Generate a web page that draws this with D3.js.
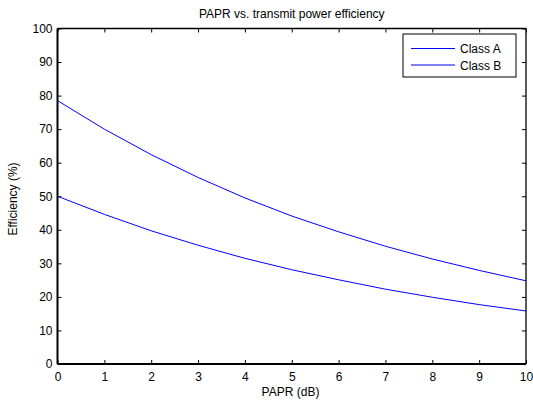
<!DOCTYPE html>
<html><head><meta charset="utf-8">
<script src="https://cdn.jsdelivr.net/npm/d3@7"></script>
<style>body{margin:0;background:#fff}svg{display:block}text{font-family:"Liberation Sans",Arial,sans-serif}</style>
</head><body><svg id="c" width="533" height="401"></svg>
<script>
const papr = [0,1,2,3,4,5,6,7,8,9,10];
const classA = [50,44.6,39.7,35.4,31.5,28.1,25.1,22.3,19.9,17.7,15.8];
const classB = [78.5,70.0,62.4,55.6,49.5,44.1,39.4,35.1,31.3,27.9,24.8];
const xTicks = [0,1,2,3,4,5,6,7,8,9,10];
const yTicks = [0,10,20,30,40,50,60,70,80,90,100];
const seriesNames = ["Class A","Class B"];

const svg = d3.select("#c");
const L=57.5,R=526,T=28.5,B=364;
const x = d3.scaleLinear().domain([0,10]).range([L,R]);
const y = d3.scaleLinear().domain([0,100]).range([B,T]);
const FS = 12;

svg.append("rect").attr("width",533).attr("height",401).attr("fill","#fff");

// bottom axis
const xa = svg.append("g").attr("transform",`translate(0,${B})`)
  .call(d3.axisBottom(x).tickValues(xTicks).tickSizeInner(-4).tickSizeOuter(0).tickPadding(0).tickFormat(d3.format("d")));
xa.select(".domain").remove();
xa.selectAll("text").attr("font-size",FS).attr("fill","#000").attr("dy",null).attr("y",17);
xa.selectAll("line").attr("stroke","#000");
// top ticks
const xt = svg.append("g").attr("transform",`translate(0,${T})`)
  .call(d3.axisTop(x).tickValues(xTicks).tickSizeInner(-4).tickSizeOuter(0).tickFormat(""));
xt.select(".domain").remove(); xt.selectAll("line").attr("stroke","#000");
// left axis
const ya = svg.append("g").attr("transform",`translate(${L},0)`)
  .call(d3.axisLeft(y).tickValues(yTicks).tickSizeInner(-4).tickSizeOuter(0).tickPadding(5));
ya.select(".domain").remove();
ya.selectAll("text").attr("font-size",FS).attr("fill","#000");
ya.selectAll("line").attr("stroke","#000");
const yr = svg.append("g").attr("transform",`translate(${R},0)`)
  .call(d3.axisRight(y).tickValues(yTicks).tickSizeInner(-4).tickSizeOuter(0).tickFormat(""));
yr.select(".domain").remove(); yr.selectAll("line").attr("stroke","#000");

// lines
const line = d3.line().x((d,i)=>x(papr[i])).y(d=>y(d));
[classA,classB].forEach(s=>{
  svg.append("path").attr("d",line(s)).attr("fill","none").attr("stroke","#0000ff").attr("stroke-width",1);
});

// frame
svg.append("line").attr("x1",L).attr("x2",R).attr("y1",T).attr("y2",T).attr("stroke","#000").attr("stroke-width",1.3);
svg.append("line").attr("x1",R).attr("x2",R).attr("y1",T).attr("y2",B).attr("stroke","#000").attr("stroke-width",1.3);
svg.append("line").attr("x1",L).attr("x2",R).attr("y1",B).attr("y2",B).attr("stroke","#000").attr("stroke-width",2);
svg.append("line").attr("x1",L).attr("x2",L).attr("y1",T).attr("y2",B).attr("stroke","#000").attr("stroke-width",2);

// title and labels
svg.append("text").attr("x",(L+R)/2).attr("y",18).attr("text-anchor","middle").attr("font-size",FS).text("PAPR vs. transmit power efficiency");
svg.append("text").attr("x",290.5).attr("y",396).attr("text-anchor","middle").attr("font-size",FS).text("PAPR (dB)");
svg.append("text").attr("transform",`translate(17,199) rotate(-90)`).attr("text-anchor","middle").attr("font-size",FS).text("Efficiency (%)");

// legend
const lg = svg.append("g");
lg.append("rect").attr("x",403).attr("y",34).attr("width",113).attr("height",43).attr("fill","#fff").attr("stroke","#000").attr("stroke-width",1);
seriesNames.forEach((n,i)=>{
  const yy = 48.5 + i*16.5;
  lg.append("line").attr("x1",411).attr("x2",455).attr("y1",yy).attr("y2",yy).attr("stroke","#0000ff").attr("stroke-width",1);
  lg.append("text").attr("x",460).attr("y",yy+4.5).attr("font-size",FS).text(n);
});
</script></body></html>
